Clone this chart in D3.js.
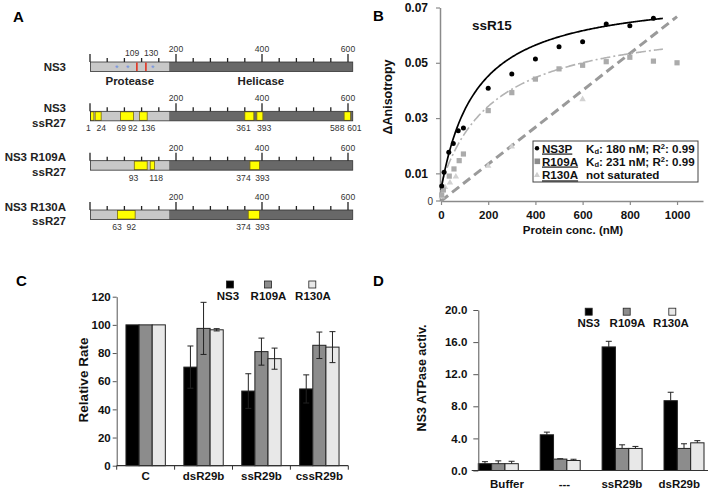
<!DOCTYPE html>
<html><head><meta charset="utf-8">
<script src="https://cdn.jsdelivr.net/npm/d3@7"></script>
<style>
body{margin:0;background:#fff}
svg{display:block;font-family:Arial,"Liberation Sans",Helvetica,sans-serif}
</style></head><body>
<svg id="fig" width="714" height="492"></svg>
<script>
// ---------------- Panel A data ----------------
const rowLabelsA = [["NS3"], ["NS3", "ssR27"], ["NS3 R109A", "ssR27"], ["NS3 R130A", "ssR27"]];
const proteinLength = 611;
const proteaseEnd = 184;
const tickUnitsA = [0,40,80,120,160,200,240,280,320,360,400,440,480,520,560,600];
const majorTicksA = [0,200,400,600];
const yellowSegs = [
  [],
  [[1,9],[12,26],[71,101],[115,133],[360,381],[388,402],[591,606]],
  [[103,133],[140,150],[372,394]],
  [[64,105],[368,394]]
];
const segLabels = [
  [],
  [{t:"1",at:-4},{t:"24",at:26},{t:"69",at:73},{t:"92",at:99.5},{t:"136",at:135},{t:"361",at:357},{t:"393",at:405},{t:"588",at:575},{t:"601",at:615}],
  [{t:"93",at:101},{t:"118",at:154},{t:"374",at:357},{t:"393",at:401}],
  [{t:"63",at:63},{t:"92",at:96},{t:"374",at:357},{t:"393",at:401}]
];
const redSites = [109, 130];
const redSiteLabels = [{t:"109",at:98},{t:"130",at:142}];
const starSites = [62, 88, 146];

// ---------------- Panel B data ----------------
const ns3pConc = [3,13,33,52,73,95,200,300,400,500,600,700,800,900];
const ns3pVal  = [0.0054,0.0104,0.0176,0.0208,0.0254,0.0264,0.0408,0.0459,0.0514,0.0558,0.0576,0.0640,0.0634,0.0661];
const r109Conc = [3,10,35,55,77,95,200,300,400,500,600,700,800,900,1000];
const r109Val  = [0.0022,0.0040,0.0090,0.0116,0.0146,0.0170,0.0327,0.0392,0.0441,0.0478,0.0491,0.0504,0.0520,0.0506,0.0500];
const r130Conc = [3,17,38,63,200,300,600];
const r130Val  = [0.0016,0.0050,0.0066,0.0088,0.0127,0.0197,0.0368];
// fitted model parameters (offset, Bmax, K) as drawn
const ns3pFit = {a:0.004, b:0.0719, k:149, xmax:940};
const r109Fit = {a:0.0059, b:0.0611, k:231, xmax:940};
const r130Fit = {slope:0.0000667, xmax:1000};
const bYTicks = [0.01,0.03,0.05,0.07];
const bXTicks = [0,200,400,600,800,1000];

// ---------------- Panel C data ----------------
const cCats = ["C","dsR29b","ssR29b","cssR29b"];
const seriesNames = ["NS3","R109A","R130A"];
const cNS3   = [100, 70, 53, 54.5];
const cNS3e  = [0, 15, 12.3, 10];
const cR109  = [100, 97.5, 81, 85.5];
const cR109e = [0, 18.5, 9.6, 9.4];
const cR130  = [100, 96.5, 76, 84.2];
const cR130e = [0, 0.8, 7.5, 11];
const cYTicks = [0,20,40,60,80,100,120];

// ---------------- Panel D data ----------------
const dCats = ["Buffer","---","ssR29b","dsR29b"];
const dNS3   = [0.85, 4.45, 15.4, 8.7];
const dNS3e  = [0.25, 0.33, 0.7, 1.05];
const dR109  = [0.85, 1.42, 2.75, 2.75];
const dR109e = [0.35, 0.05, 0.45, 0.58];
const dR130  = [0.85, 1.25, 2.75, 3.45];
const dR130e = [0.3, 0.15, 0.25, 0.27];
const dYTicks = [0,4,8,12,16,20];

const barColors = ["#000000", "#8c8c8c", "#e8e8e8"];

const svg = d3.select("#fig");

// panel letters
[["A",13,22],["B",373,21],["C",16,286],["D",373,286]].forEach(([t,x,y]) => {
  svg.append("text").attr("x",x).attr("y",y).attr("font-size",15).attr("font-weight","bold").text(t);
});

// ================= Panel A =================
(function(){
  const xA = d3.scaleLinear().domain([0,600]).range([90,348]);
  const rowY = d3.scalePoint().domain(d3.range(rowLabelsA.length)).range([62,210]);
  const barH = 9.5;
  const numSize = 8.6;
  const g = svg.append("g");
  rowLabelsA.forEach((lines, i) => {
    const y0 = rowY(i);
    const yc = y0 + barH/2;
    g.append("rect").attr("x",xA(1)).attr("y",y0).attr("width",xA(proteaseEnd)-xA(1)).attr("height",barH).attr("fill","#c8c8c8");
    g.append("rect").attr("x",xA(proteaseEnd)).attr("y",y0).attr("width",xA(proteinLength)-xA(proteaseEnd)).attr("height",barH).attr("fill","#686868");
    yellowSegs[i].forEach(s => {
      g.append("rect").attr("x",xA(s[0])).attr("y",y0+0.5).attr("width",xA(s[1])-xA(s[0])).attr("height",barH-1)
        .attr("fill","#ffff00").attr("stroke","#7a6a10").attr("stroke-width",0.8);
    });
    g.append("rect").attr("x",xA(1)).attr("y",y0).attr("width",xA(proteinLength)-xA(1)).attr("height",barH)
      .attr("fill","none").attr("stroke","#333").attr("stroke-width",0.8);
    tickUnitsA.forEach(t => {
      const major = majorTicksA.includes(t);
      g.append("line").attr("x1",xA(t)).attr("x2",xA(t)).attr("y1",y0).attr("y2",y0-(major?8:4))
        .attr("stroke","#222").attr("stroke-width",1.3);
    });
    majorTicksA.filter(t => t>0).forEach(t => {
      g.append("text").attr("x",xA(t)).attr("y",y0-10).attr("text-anchor","middle")
        .attr("font-size",numSize).attr("fill","#333").text(t);
    });
    if (lines.length === 1) {
      g.append("text").attr("x",66).attr("y",yc+4.5).attr("text-anchor","end").attr("font-size",11.5).attr("font-weight","bold").attr("fill","#222").text(lines[0]);
    } else {
      g.append("text").attr("x",66).attr("y",yc-4).attr("text-anchor","end").attr("font-size",11.5).attr("font-weight","bold").attr("fill","#222").text(lines[0]);
      g.append("text").attr("x",66).attr("y",yc+10.5).attr("text-anchor","end").attr("font-size",11.5).attr("font-weight","bold").attr("fill","#222").text(lines[1]);
    }
    segLabels[i].forEach(l => {
      g.append("text").attr("x",xA(l.at)).attr("y",y0+barH+10.5).attr("text-anchor","middle")
        .attr("font-size",numSize).attr("fill","#333").text(l.t);
    });
    if (i === 0) {
      redSites.forEach(s => {
        g.append("line").attr("x1",xA(s)).attr("x2",xA(s)).attr("y1",y0+0.5).attr("y2",y0+barH-0.5)
          .attr("stroke","#e2321e").attr("stroke-width",1.6);
      });
      redSiteLabels.forEach(l => {
        g.append("text").attr("x",xA(l.at)).attr("y",y0-6).attr("text-anchor","middle")
          .attr("font-size",numSize).attr("fill","#333").text(l.t);
      });
      starSites.forEach(s => {
        g.append("text").attr("x",xA(s)).attr("y",y0+barH-0.5).attr("text-anchor","middle")
          .attr("font-size",9).attr("fill","#6b8fe0").text("*");
      });
      g.append("text").attr("x",xA((1+proteaseEnd)/2)).attr("y",y0+barH+13).attr("text-anchor","middle")
        .attr("font-size",11.5).attr("font-weight","bold").attr("fill","#222").text("Protease");
      g.append("text").attr("x",xA((proteaseEnd+proteinLength)/2)).attr("y",y0+barH+13).attr("text-anchor","middle")
        .attr("font-size",11.5).attr("font-weight","bold").attr("fill","#222").text("Helicase");
    }
  });
})();

// ================= Panel B =================
(function(){
  const x = d3.scaleLinear().domain([0,1110]).range([441,703]);
  const y = d3.scaleLinear().domain([0,0.07]).range([201,7.5]);
  const g = svg.append("g");
  const axisColor = "#8a8a8a";

  const ya = g.append("g").attr("transform","translate(440,0)")
    .call(d3.axisLeft(y).tickValues(bYTicks).tickFormat(d3.format(".2f")).tickSize(4).tickSizeOuter(0).tickPadding(8));
  ya.select(".domain").attr("stroke",axisColor).attr("stroke-width",1.5);
  ya.selectAll(".tick line").attr("stroke",axisColor).attr("stroke-width",1.2);
  ya.selectAll(".tick text").attr("font-size",12).attr("font-weight","bold").attr("fill","#111").attr("font-family","Arial, 'Liberation Sans', sans-serif");
  g.append("text").attr("x",433).attr("y",y(0)+4).attr("text-anchor","end").attr("font-size",10).attr("fill","#333").text("0");
  g.append("line").attr("x1",436).attr("x2",440).attr("y1",y(0)).attr("y2",y(0)).attr("stroke",axisColor).attr("stroke-width",1.2);

  const xa = g.append("g").attr("transform","translate(0,201)")
    .call(d3.axisBottom(x).tickValues(bXTicks).tickFormat(d3.format("d")).tickSize(4).tickSizeOuter(0).tickPadding(6));
  xa.select(".domain").attr("stroke",axisColor).attr("stroke-width",1.5);
  xa.selectAll(".tick line").attr("stroke",axisColor).attr("stroke-width",1.2);
  xa.selectAll(".tick text").attr("font-size",11.5).attr("font-weight","bold").attr("fill","#111").attr("font-family","Arial, 'Liberation Sans', sans-serif");

  g.append("text").attr("x",573).attr("y",234).attr("text-anchor","middle").attr("font-size",11.5).attr("font-weight","bold").attr("fill","#111").text("Protein conc. (nM)");
  g.append("text").attr("transform","translate(392,97) rotate(-90)").attr("text-anchor","middle").attr("font-size",12.5).attr("font-weight","bold").attr("fill","#111").text("\u0394Anisotropy");
  g.append("text").attr("x",472).attr("y",30).attr("font-size",13.5).attr("font-weight","bold").attr("fill","#111").text("ssR15");

  const line = d3.line().x(d => x(d[0])).y(d => y(d[1]));
  g.append("path").datum([[0,0],[r130Fit.xmax, r130Fit.slope*r130Fit.xmax]]).attr("d",line)
    .attr("fill","none").attr("stroke","#9a9a9a").attr("stroke-width",3).attr("stroke-dasharray","9,5");
  const grid = d3.range(0, 941, 4);
  g.append("path").datum(grid.filter(c => c <= r109Fit.xmax).map(c => [c, r109Fit.a + r109Fit.b*c/(r109Fit.k+c)])).attr("d",line)
    .attr("fill","none").attr("stroke","#b3b3b3").attr("stroke-width",1.6).attr("stroke-dasharray","10,3,2,3");
  g.append("path").datum(grid.filter(c => c <= ns3pFit.xmax).map(c => [c, ns3pFit.a + ns3pFit.b*c/(ns3pFit.k+c)])).attr("d",line)
    .attr("fill","none").attr("stroke","#000").attr("stroke-width",1.7);

  const tri = d3.symbol().type(d3.symbolTriangle).size(18);
  g.selectAll(".t130").data(r130Conc.map((c,i)=>[c,r130Val[i]])).enter().append("path")
    .attr("d",tri).attr("transform",d=>`translate(${x(d[0])},${y(d[1])})`).attr("fill","#d2d2d2");
  g.selectAll(".s109").data(r109Conc.map((c,i)=>[c,r109Val[i]])).enter().append("rect")
    .attr("x",d=>x(d[0])-2.6).attr("y",d=>y(d[1])-2.6).attr("width",5.2).attr("height",5.2).attr("fill","#ababab");
  g.selectAll(".c3").data(ns3pConc.map((c,i)=>[c,ns3pVal[i]])).enter().append("circle")
    .attr("cx",d=>x(d[0])).attr("cy",d=>y(d[1])).attr("r",2.5).attr("fill","#000");

  // legend
  g.append("rect").attr("x",533).attr("y",141).attr("width",165).attr("height",41).attr("fill","#fff").attr("stroke","#444").attr("stroke-width",1);
  const ly = [148.3, 161.3, 175.2];
  g.append("circle").attr("cx",537).attr("cy",ly[0]).attr("r",2.2).attr("fill","#000");
  g.append("rect").attr("x",534.5).attr("y",ly[1]-2.8).attr("width",5.6).attr("height",5.6).attr("fill","#8c8c8c");
  g.append("path").attr("d",d3.symbol().type(d3.symbolTriangle).size(16)).attr("transform",`translate(537,${ly[2]})`).attr("fill","#cfcfcf");
  const names = ["NS3P","R109A","R130A"];
  const lfs = 11.6;
  names.forEach((n,i) => {
    g.append("text").attr("x",542).attr("y",ly[i]+4.2).attr("font-size",lfs).attr("font-weight","bold").attr("fill","#111")
      .attr("text-decoration","underline").text(n);
  });
  const kd = [["180","0.99"],["231","0.99"]];
  kd.forEach((k,i) => {
    const t = g.append("text").attr("x",586).attr("y",ly[i]+4.2).attr("font-size",lfs).attr("font-weight","bold").attr("fill","#111");
    t.append("tspan").text("K");
    t.append("tspan").attr("dy",1.8).attr("font-size",7.5).text("d");
    t.append("tspan").attr("dy",-1.8).text(`: ${k[0]} nM; R`);
    t.append("tspan").attr("dy",-3.5).attr("font-size",7.5).text("2");
    t.append("tspan").attr("dy",3.5).text(`: ${k[1]}`);
  });
  g.append("text").attr("x",586).attr("y",ly[2]+4.2).attr("font-size",lfs).attr("font-weight","bold").attr("fill","#111").text("not saturated");
})();

// ========== grouped bar helper ==========
function groupedBars(opts){
  const g = svg.append("g");
  const {cats, vals, errs, xRange, bandRange, pad, padOuter, yDomain, yRange, ticks, fmt, lblPad, bothErr, axisStart} = opts;
  const y = d3.scaleLinear().domain(yDomain).range(yRange);
  const xb = d3.scaleBand().domain(cats).range(bandRange).paddingInner(pad).paddingOuter(padOuter);
  const xs = d3.scaleBand().domain(d3.range(3)).range([0, xb.bandwidth()]);
  const xl = d3.scaleBand().domain(cats).range(xRange);
  cats.forEach((c,ci) => {
    vals.forEach((s,si) => {
      g.append("rect").attr("x",xb(c)+xs(si)).attr("y",y(s[ci])).attr("width",xs.bandwidth()).attr("height",y(0)-y(s[ci]))
        .attr("fill",barColors[si]).attr("stroke","#222").attr("stroke-width",1);
    });
  });
  cats.forEach((c,ci) => {
    vals.forEach((s,si) => {
      const e = errs[si][ci];
      if (!e) return;
      const cx = xb(c)+xs(si)+xs.bandwidth()/2;
      const top = y(s[ci]+e), bot = bothErr ? y(s[ci]-e) : y(s[ci]);
      g.append("line").attr("x1",cx).attr("x2",cx).attr("y1",top).attr("y2",bot).attr("stroke","#222").attr("stroke-width",1);
      g.append("line").attr("x1",cx-3).attr("x2",cx+3).attr("y1",top).attr("y2",top).attr("stroke","#222").attr("stroke-width",1);
      if (bothErr) g.append("line").attr("x1",cx-3).attr("x2",cx+3).attr("y1",bot).attr("y2",bot).attr("stroke","#222").attr("stroke-width",1);
    });
  });
  const ya = g.append("g").attr("transform",`translate(${xRange[0]},0)`)
    .call(d3.axisLeft(y).tickValues(ticks).tickFormat(fmt).tickSize(opts.tickLen).tickSizeOuter(0).tickPadding(opts.yPad));
  ya.select(".domain").attr("stroke","#555").attr("stroke-width",1);
  ya.selectAll(".tick line").attr("stroke","#555");
  ya.selectAll(".tick text").attr("font-size",11.5).attr("font-weight","bold").attr("fill","#111").attr("font-family","Arial, 'Liberation Sans', sans-serif");
  g.append("line").attr("x1",axisStart).attr("x2",xRange[1]).attr("y1",y(0)).attr("y2",y(0)).attr("stroke","#333").attr("stroke-width",1.2);
  if (opts.catTicks) {
    cats.concat([null]).forEach((c) => {
      const xx = c === null ? xRange[1] : xl(c);
      g.append("line").attr("x1",xx).attr("x2",xx).attr("y1",y(0)).attr("y2",y(0)+4).attr("stroke","#333");
    });
  }
  cats.forEach(c => {
    g.append("text").attr("x",xl(c)+xl.bandwidth()/2).attr("y",y(0)+lblPad).attr("text-anchor","middle")
      .attr("font-size",11.5).attr("font-weight","bold").attr("fill","#111").text(c);
  });
  opts.legend.forEach((L,i) => {
    g.append("rect").attr("x",L[0]-3.5).attr("y",opts.legY-3.5).attr("width",7).attr("height",7)
      .attr("fill",barColors[i]).attr("stroke","#222").attr("stroke-width",0.8);
    g.append("text").attr("x",L[1]).attr("y",opts.legY+15).attr("text-anchor","middle")
      .attr("font-size",11.5).attr("font-weight","bold").attr("fill","#111").text(seriesNames[i]);
  });
  g.append("text").attr("transform",`translate(${opts.titleX},${opts.titleY}) rotate(-90)`).attr("text-anchor","middle")
    .attr("font-size",opts.titleSize).attr("font-weight","bold").attr("fill","#111").text(opts.title);
  return g;
}

// ================= Panel C =================
groupedBars({
  cats: cCats, vals:[cNS3,cR109,cR130], errs:[cNS3e,cR109e,cR130e],
  xRange:[116.7,348.3], bandRange:[116.7,348.3], pad:0.32, padOuter:0.16,
  yDomain:[0,120], yRange:[465.7,296.7], ticks:cYTicks, fmt:d3.format("d"),
  tickLen:4, yPad:2, lblPad:14, bothErr:true, axisStart:116.7, catTicks:true,
  legend:[[230,228],[268,268.5],[312.3,313]], legY:284.5,
  title:"Relative Rate", titleX:88, titleY:380, titleSize:13.5
});

// ================= Panel D =================
groupedBars({
  cats: dCats, vals:[dNS3,dR109,dR130], errs:[dNS3e,dR109e,dR130e],
  xRange:[478.3,708], bandRange:[478.3,704], pad:0.354, padOuter:0,
  yDomain:[0,20], yRange:[470.5,310], ticks:dYTicks, fmt:d3.format(".1f"),
  tickLen:5, yPad:6, lblPad:17.5, bothErr:false, axisStart:471.7, catTicks:false,
  legend:[[588.7,588.7],[626.7,627.5],[672.3,671]], legY:311.7,
  title:"NS3 ATPase activ.", titleX:426, titleY:378, titleSize:12.5
});
</script>
</body></html>
